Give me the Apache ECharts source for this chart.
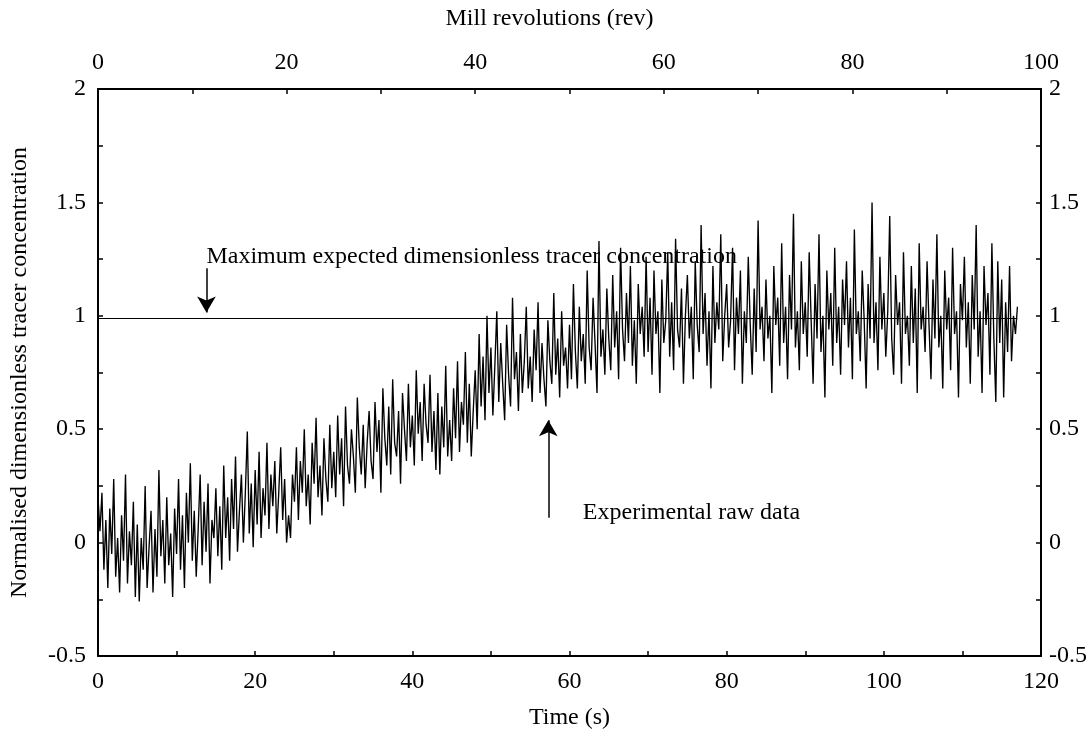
<!DOCTYPE html>
<html><head><meta charset="utf-8">
<script src="https://cdn.jsdelivr.net/npm/echarts@6/dist/echarts.min.js"></script>
<style>html,body{margin:0;padding:0;background:#fff}#c{width:1090px;height:736px}</style>
</head><body><div id="c"></div>
<script>
// ---- data ----
const sampleInterval = 0.25; // s between samples
const concentration = [
  0.20, 0.05, 0.22, -0.12, 0.10, -0.20, 0.15, -0.05, 0.28, -0.15, 0.02, -0.22, 0.12, -0.08, 0.30, -0.18, 0.05, -0.10, 0.18, -0.24,
  0.08, -0.26, 0.02, -0.12, 0.25, -0.20, -0.02, 0.14, -0.22, 0.06, -0.15, 0.32, -0.06, 0.10, -0.18, 0.20, -0.10, 0.04, -0.24, 0.15,
  -0.05, 0.28, -0.12, 0.12, -0.20, 0.22, 0.00, 0.35, -0.08, 0.14, -0.15, 0.06, 0.30, -0.10, 0.18, -0.04, 0.26, -0.18, 0.10, 0.02,
  0.24, -0.06, 0.16, -0.12, 0.34, 0.02, 0.20, -0.08, 0.28, 0.06, 0.38, -0.04, 0.14, 0.30, 0.00, 0.22, 0.49, 0.04, 0.26, -0.02,
  0.32, 0.08, 0.40, 0.02, 0.24, 0.12, 0.44, 0.06, 0.30, 0.16, 0.36, 0.04, 0.22, 0.42, 0.10, 0.28, 0.00, 0.12, 0.02, 0.30,
  0.18, 0.42, 0.10, 0.36, 0.22, 0.50, 0.16, 0.30, 0.08, 0.44, 0.26, 0.55, 0.20, 0.34, 0.12, 0.46, 0.28, 0.18, 0.52, 0.24,
  0.40, 0.20, 0.56, 0.30, 0.46, 0.16, 0.60, 0.34, 0.26, 0.50, 0.38, 0.22, 0.64, 0.42, 0.30, 0.52, 0.24, 0.44, 0.58, 0.36,
  0.28, 0.62, 0.40, 0.54, 0.22, 0.68, 0.46, 0.34, 0.60, 0.30, 0.72, 0.44, 0.38, 0.58, 0.26, 0.66, 0.50, 0.36, 0.70, 0.42,
  0.56, 0.34, 0.76, 0.48, 0.62, 0.36, 0.70, 0.52, 0.44, 0.74, 0.40, 0.58, 0.32, 0.66, 0.30, 0.60, 0.42, 0.78, 0.38, 0.54,
  0.36, 0.68, 0.46, 0.80, 0.40, 0.62, 0.52, 0.84, 0.44, 0.70, 0.38, 0.58, 0.76, 0.50, 0.92, 0.60, 0.82, 0.54, 1.00, 0.66,
  0.86, 0.56, 0.78, 1.02, 0.62, 0.88, 0.70, 0.54, 0.96, 0.74, 0.60, 1.08, 0.72, 0.84, 0.58, 0.92, 0.66, 0.80, 1.04, 0.68,
  0.82, 0.62, 0.94, 0.76, 1.06, 0.66, 0.88, 0.72, 0.60, 0.98, 0.80, 0.70, 1.10, 0.74, 0.90, 0.64, 1.02, 0.78, 0.86, 0.68,
  0.96, 0.72, 1.14, 0.84, 0.68, 1.04, 0.80, 0.92, 0.70, 1.20, 0.86, 0.76, 1.08, 0.88, 0.66, 1.33, 0.82, 0.94, 0.74, 1.12,
  0.90, 0.76, 1.18, 0.86, 1.02, 0.72, 1.30, 0.94, 0.80, 1.10, 0.88, 1.22, 0.78, 0.98, 0.70, 1.14, 0.92, 1.04, 0.82, 1.26,
  0.84, 1.08, 0.74, 1.20, 0.92, 1.02, 0.66, 1.16, 0.88, 0.98, 1.28, 0.82, 1.06, 0.76, 1.34, 0.94, 0.86, 1.12, 0.70, 1.00,
  1.18, 0.90, 1.04, 0.72, 1.24, 0.96, 0.84, 1.40, 0.92, 1.10, 0.78, 1.02, 0.68, 1.22, 0.88, 1.06, 0.94, 1.36, 0.80, 1.00,
  1.14, 0.86, 0.98, 1.30, 0.76, 1.08, 0.92, 1.20, 0.70, 1.02, 0.88, 1.26, 0.96, 0.74, 1.12, 0.84, 1.42, 0.94, 1.04, 0.80,
  1.16, 0.90, 1.00, 0.66, 1.22, 0.96, 1.08, 0.78, 1.32, 0.88, 1.04, 0.72, 1.18, 0.94, 1.45, 0.86, 1.02, 0.76, 1.24, 0.92,
  1.06, 0.82, 1.28, 0.98, 0.70, 1.14, 0.90, 1.36, 0.84, 1.00, 0.64, 1.20, 0.94, 1.10, 0.78, 1.30, 0.88, 1.04, 0.74, 1.16,
  0.96, 1.24, 0.86, 1.08, 0.72, 1.38, 0.92, 1.02, 0.80, 1.20, 0.98, 0.68, 1.14, 0.90, 1.50, 0.88, 1.06, 0.76, 1.26, 0.94,
  1.10, 0.82, 1.02, 1.44, 0.90, 0.74, 1.18, 0.96, 1.06, 0.70, 1.28, 0.92, 1.00, 0.78, 1.22, 0.88, 1.12, 0.66, 1.32, 0.94,
  1.04, 0.84, 1.24, 0.96, 0.72, 1.16, 0.90, 1.36, 0.86, 1.00, 0.68, 1.20, 0.94, 1.08, 0.76, 1.30, 0.92, 1.02, 0.64, 1.14,
  0.98, 1.26, 0.86, 1.06, 0.70, 1.18, 0.94, 1.40, 0.82, 1.02, 0.66, 1.22, 0.96, 1.10, 0.74, 1.32, 0.90, 0.62, 1.24, 0.88,
  1.16, 0.64, 1.06, 0.84, 1.22, 0.80, 1.00, 0.92, 1.04
];
const timeLabels = [0, 20, 40, 60, 80, 100, 120];
const revLabels = [0, 20, 40, 60, 80, 100];
const concLabels = [-0.5, 0, 0.5, 1, 1.5, 2];
const expectedMax = 0.99;
const expectedLineSpan = [0, 117];
const note1 = { text: 'Maximum expected dimensionless tracer concentration', at: [13.8, 1.26], arrowFrom: [13.8, 1.21], arrowTo: [13.8, 1.015] };
const note2 = { text: 'Experimental raw data', at: [61.7, 0.13], arrowFrom: [57.3, 0.11], arrowTo: [57.3, 0.54] };

// ---- chart ----
const FONT = 'Liberation Serif';
const seriesData = concentration.map((v, i) => [i * sampleInterval, v]);
const near = (arr, v) => arr.some(a => Math.abs(a - v) < 1e-6);
const fmt = arr => v => near(arr, v) ? String(v) : '';
const axisCommon = {
  axisLine: { show: true, onZero: false, lineStyle: { color: '#000', width: 2 } },
  axisTick: { show: true, inside: true, length: 5, lineStyle: { color: '#000', width: 1.5 } },
  splitLine: { show: false },
  nameTextStyle: { fontFamily: FONT, fontSize: 24, color: '#000' }
};
const labelStyle = { fontFamily: FONT, fontSize: 24, color: '#000' };

const chart = echarts.init(document.getElementById('c'), null, { renderer: 'canvas' });
chart.setOption({
  animation: false,
  backgroundColor: '#fff',
  grid: { left: 96, right: 49, top: 89, bottom: 80, containLabel: false },
  xAxis: [
    Object.assign({}, axisCommon, {
      type: 'value', position: 'bottom', min: 0, max: 120, interval: 10,
      name: 'Time (s)', nameLocation: 'middle', nameGap: 50,
      axisLabel: Object.assign({ margin: 14, formatter: fmt(timeLabels) }, labelStyle)
    }),
    Object.assign({}, axisCommon, {
      type: 'value', position: 'top', min: 0, max: 100, interval: 10,
      name: 'Mill revolutions (rev)', nameLocation: 'middle', nameGap: 58,
      nameTextStyle: { fontFamily: FONT, fontSize: 24, color: '#000', padding: [0, 40, 0, 0] },
      axisLabel: Object.assign({ margin: 14, formatter: fmt(revLabels) }, labelStyle)
    })
  ],
  yAxis: [
    Object.assign({}, axisCommon, {
      type: 'value', position: 'left', min: -0.5, max: 2, interval: 0.25,
      name: 'Normalised dimensionless tracer concentration', nameLocation: 'middle', nameGap: 66,
      axisLabel: Object.assign({ margin: 12, formatter: fmt(concLabels) }, labelStyle)
    }),
    Object.assign({}, axisCommon, {
      type: 'value', position: 'right', min: -0.5, max: 2, interval: 0.25,
      axisLabel: Object.assign({ margin: 8, formatter: fmt(concLabels) }, labelStyle)
    })
  ],
  series: [{
    type: 'line', xAxisIndex: 0, yAxisIndex: 0,
    data: seriesData, showSymbol: false, symbol: 'none',
    lineStyle: { color: '#000', width: 1.35 },
    markLine: {
      silent: true, animation: false,
      label: { show: false },
      data: [
        [{ coord: [expectedLineSpan[0], expectedMax], symbol: 'none', lineStyle: { color: '#000', width: 1.2, type: 'solid' } },
         { coord: [expectedLineSpan[1], expectedMax], symbol: 'none' }],
        [{ coord: note1.arrowFrom, symbol: 'none', lineStyle: { color: '#000', width: 1.5, type: 'solid' } },
         { coord: note1.arrowTo, symbol: 'arrow', symbolSize: [14, 16] }],
        [{ coord: note2.arrowFrom, symbol: 'none', lineStyle: { color: '#000', width: 1.5, type: 'solid' } },
         { coord: note2.arrowTo, symbol: 'arrow', symbolSize: [14, 16] }]
      ]
    }
  }]
});

const p1 = chart.convertToPixel({ xAxisIndex: 0, yAxisIndex: 0 }, note1.at);
const p2 = chart.convertToPixel({ xAxisIndex: 0, yAxisIndex: 0 }, note2.at);
chart.setOption({
  graphic: [
    { type: 'text', x: p1[0], y: p1[1], style: { text: note1.text, font: '24px "' + FONT + '"', fill: '#000', textAlign: 'left', textVerticalAlign: 'middle' } },
    { type: 'text', x: p2[0], y: p2[1], style: { text: note2.text, font: '24px "' + FONT + '"', fill: '#000', textAlign: 'left', textVerticalAlign: 'middle' } }
  ]
});
</script>
</body></html>
